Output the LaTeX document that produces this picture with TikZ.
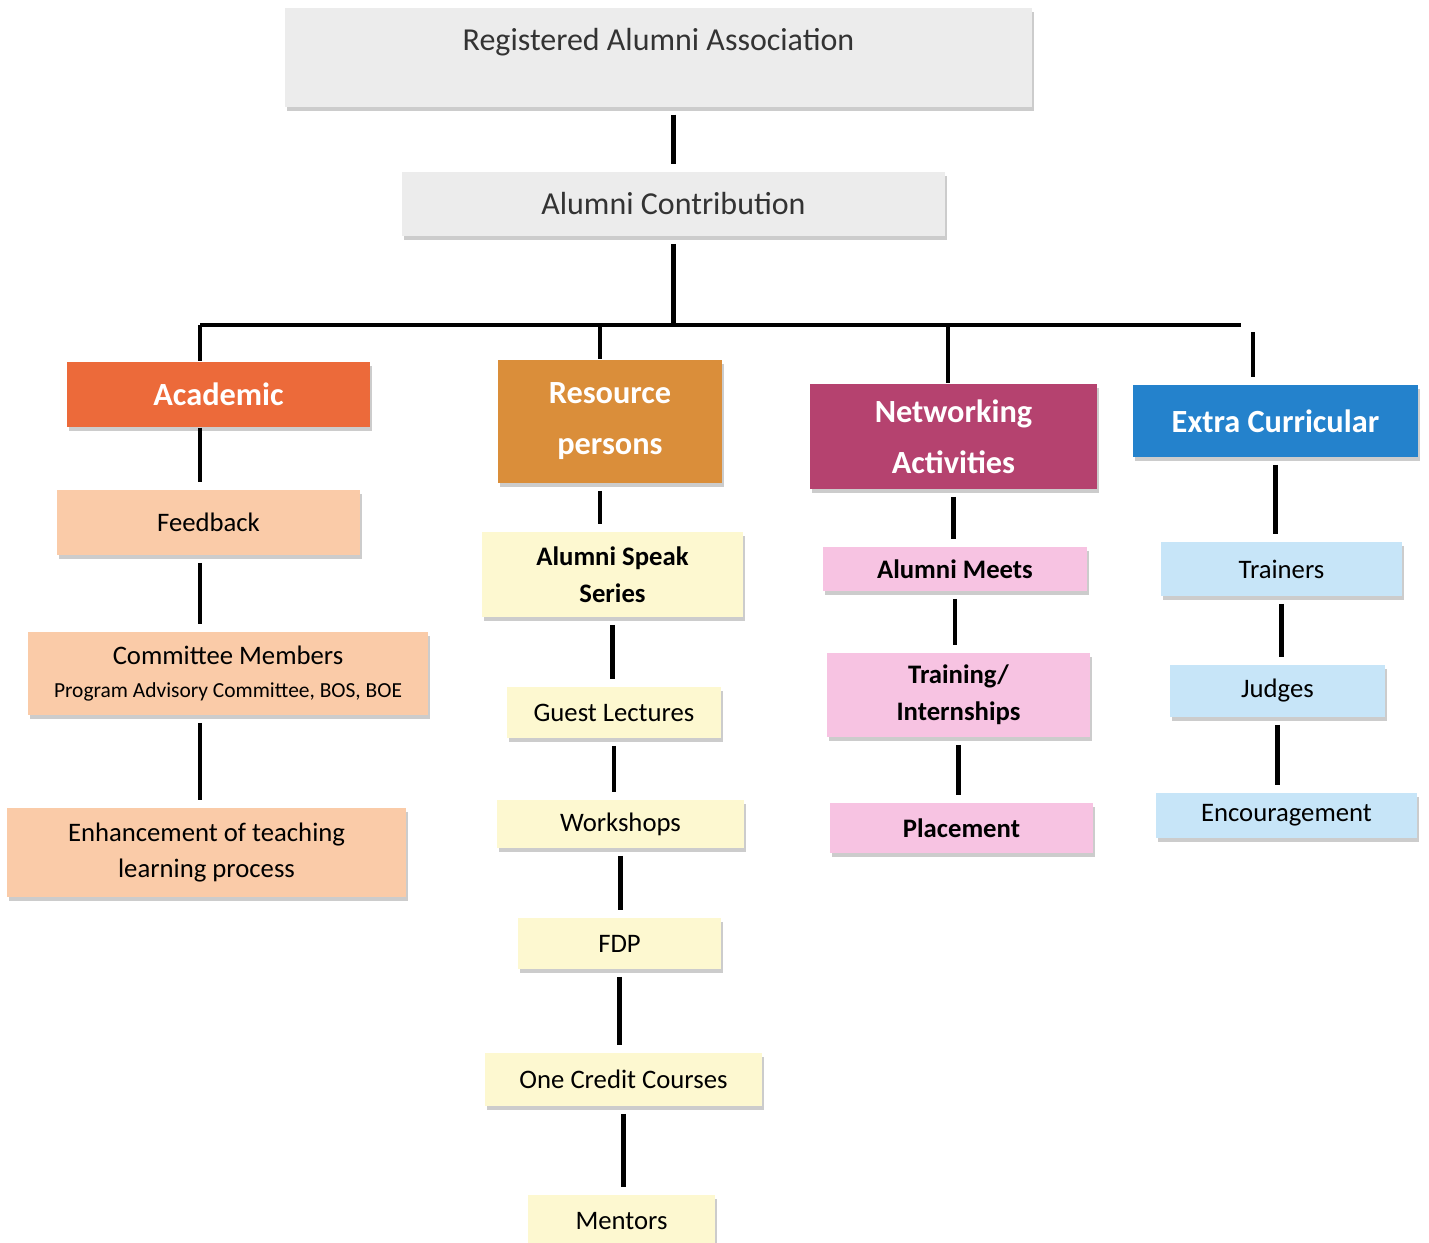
\documentclass[tikz,border=0pt]{standalone}
\usepackage{fontspec}
\setmainfont{Carlito}
\usepackage{tikz}
\usetikzlibrary{positioning,shadows}

\definecolor{boxgray}{RGB}{236,236,236}
\definecolor{acadred}{RGB}{236,106,58}
\definecolor{resorange}{RGB}{218,142,58}
\definecolor{netmagenta}{RGB}{181,66,111}
\definecolor{extrablue}{RGB}{36,130,204}
\definecolor{peach}{RGB}{250,203,168}
\definecolor{paleyellow}{RGB}{253,248,208}
\definecolor{palepink}{RGB}{247,195,226}
\definecolor{paleblue}{RGB}{199,229,248}

\begin{document}
\begin{tikzpicture}[scale=0.1]
    \tikzstyle{every node}+=[inner sep=0pt, align=center]
    \tikzstyle{box}=[rectangle, drop shadow={shadow xshift=0.6pt, shadow yshift=-1pt, fill=black!40, opacity=0.5}]
    \tikzstyle{topbox}=[box, fill=boxgray, font=\fontsize{9.1}{11}\selectfont, text=black!80]
    \tikzstyle{headbox}=[box, text=white, font=\fontsize{9.2}{14.5}\selectfont\bfseries]
    \tikzstyle{subbox}=[box, font=\fontsize{7.6}{10.5}\selectfont]
    \tikzstyle{boldbox}=[subbox, font=\fontsize{7.6}{10.5}\selectfont\bfseries]
    \tikzstyle{link}=[black, line width=1.2pt, shorten >=2pt, shorten <=2pt]
    \useasboundingbox (0,0) rectangle (142.9,-124.3);
    % top of the tree
    \node [topbox, minimum width=7.47cm, minimum height=0.99cm, text depth=0.36cm] (reg) at (65.85,-5.75) {Registered Alumni Association};
    \node [topbox, minimum width=5.43cm, minimum height=0.64cm] (contrib) at (67.35,-20.4) {Alumni Contribution};
    % four heads
    \node [headbox, fill=acadred, minimum width=3.03cm, minimum height=0.65cm] (academic) at (21.85,-39.45) {Academic};
    \node [headbox, fill=resorange, minimum width=2.24cm, minimum height=1.23cm] (resource) at (61.0,-42.15) {Resource\\persons};
    \node [headbox, fill=netmagenta, minimum width=2.87cm, minimum height=1.05cm] (network) at (95.35,-43.65) {Networking\\Activities};
    \node [headbox, fill=extrablue, minimum width=2.85cm, minimum height=0.72cm] (extra) at (127.55,-42.1) {Extra Curricular};
    % academic column
    \node [subbox, fill=peach, minimum width=3.03cm, minimum height=0.65cm] (feedback) at (20.85,-52.25) {Feedback};
    \node [subbox, fill=peach, minimum width=4.0cm, minimum height=0.83cm, font=\fontsize{7.6}{9.5}\selectfont] (committee) at (22.8,-67.35) {Committee Members\\{\fontsize{6.1}{7}\selectfont Program Advisory Committee, BOS, BOE}};
    \node [subbox, fill=peach, minimum width=3.99cm, minimum height=0.89cm] (enhance) at (20.65,-85.25) {Enhancement of teaching\\learning process};
    % resource column
    \node [boldbox, fill=paleyellow, minimum width=2.61cm, minimum height=0.85cm] (speak) at (61.25,-57.45) {Alumni Speak\\Series};
    \node [subbox, fill=paleyellow, minimum width=2.14cm, minimum height=0.51cm] (guest) at (61.4,-71.25) {Guest Lectures};
    \node [subbox, fill=paleyellow, minimum width=2.47cm, minimum height=0.48cm] (workshops) at (62.05,-82.4) {Workshops};
    \node [subbox, fill=paleyellow, minimum width=2.03cm, minimum height=0.51cm] (fdp) at (61.95,-94.35) {FDP};
    \node [subbox, fill=paleyellow, minimum width=2.77cm, minimum height=0.53cm] (credit) at (62.35,-107.95) {One Credit Courses};
    \node [subbox, fill=paleyellow, minimum width=1.87cm, minimum height=0.52cm] (mentors) at (62.15,-122.1) {Mentors};
    % networking column
    \node [boldbox, fill=palepink, minimum width=2.64cm, minimum height=0.44cm] (meets) at (95.5,-56.9) {Alumni Meets};
    \node [boldbox, fill=palepink, minimum width=2.63cm, minimum height=0.84cm] (training) at (95.85,-69.5) {Training/\\Internships};
    \node [boldbox, fill=palepink, minimum width=2.63cm, minimum height=0.50cm] (placement) at (96.15,-82.8) {Placement};
    % extra curricular column
    \node [subbox, fill=paleblue, minimum width=2.41cm, minimum height=0.54cm] (trainers) at (128.15,-56.9) {Trainers};
    \node [subbox, fill=paleblue, minimum width=2.15cm, minimum height=0.52cm] (judges) at (127.75,-69.1) {Judges};
    \node [subbox, fill=paleblue, minimum width=2.61cm, minimum height=0.45cm] (encourage) at (128.65,-81.55) {Encouragement};
    % bus line
    \coordinate (busA) at (20.0,-32.5);
    \coordinate (busB) at (60.0,-32.5);
    \coordinate (busC) at (94.8,-32.5);
    \coordinate (busEnd) at (124.1,-32.5);
    \coordinate (extraTop) at (125.3,-33.2);
    \draw [link] (reg.south -| contrib.north) -- (contrib.north);
    \draw [link, shorten >=0pt] (contrib.south) -- (contrib.south |- busA);
    \draw [black, line width=1.2pt] (busA) -- (busEnd);
    \draw [link, shorten <=0pt, shorten >=0pt] (busA) -- (academic.north -| busA);
    \draw [link, shorten <=0pt, shorten >=0pt] (busB) -- (resource.north -| busB);
    \draw [link, shorten <=0pt, shorten >=0pt] (busC) -- (network.north -| busC);
    \draw [link, shorten <=0pt] (extraTop) -- (extra.north -| extraTop);
    % academic links
    \draw [link, shorten <=0pt] (academic.south -| busA) -- (feedback.north -| busA);
    \draw [link] (feedback.south -| busA) -- (committee.north -| busA);
    \draw [link] (committee.south -| busA) -- (enhance.north -| busA);
    % resource links
    \draw [link] (resource.south -| busB) -- (speak.north -| busB);
    \draw [link] (speak.south) -- (speak.south |- guest.north);
    \draw [link] (guest.south) -- (guest.south |- workshops.north);
    \draw [link] (workshops.south) -- (workshops.south |- fdp.north);
    \draw [link] (fdp.south) -- (fdp.south |- credit.north);
    \draw [link] (credit.south) -- (credit.south |- mentors.north);
    % networking links
    \draw [link] (network.south) -- (network.south |- meets.north);
    \draw [link] (meets.south) -- (meets.south |- training.north);
    \draw [link] (training.south) -- (training.south |- placement.north);
    % extra curricular links
    \draw [link] (extra.south) -- (extra.south |- trainers.north);
    \draw [link] (trainers.south) -- (trainers.south |- judges.north);
    \draw [link] (judges.south) -- (judges.south |- encourage.north);
\end{tikzpicture}
\end{document}
